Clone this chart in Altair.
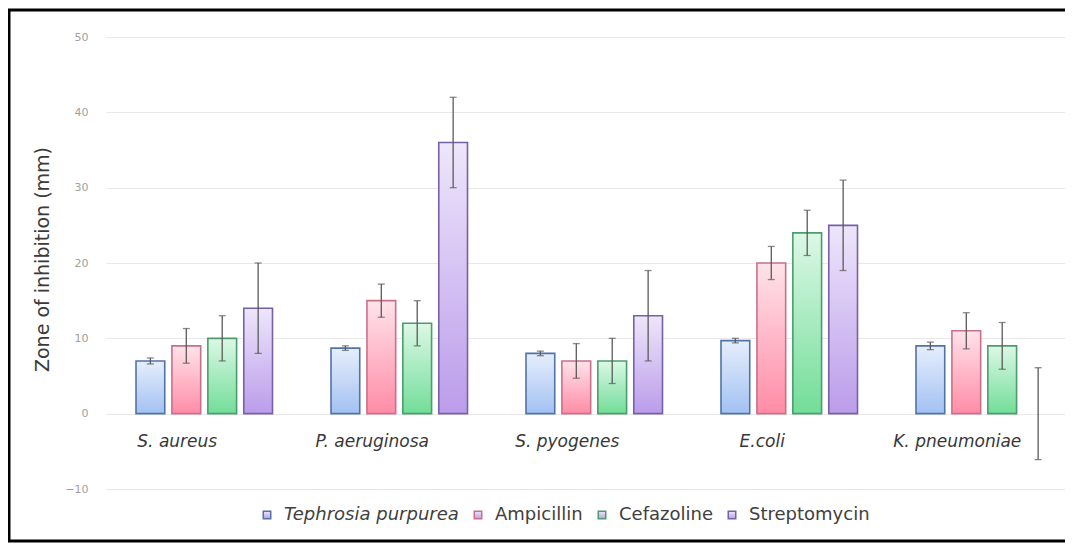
import altair as alt
import pandas as pd

organisms = ["S. aureus", "P. aeruginosa", "S. pyogenes", "E.coli", "K. pneumoniae"]
treatments = ["Tephrosia purpurea", "Ampicillin", "Cefazoline", "Streptomycin"]

tephrosia = [7.0, 8.7, 8.0, 9.7, 9.0]
ampicillin = [9.0, 15.0, 7.0, 20.0, 11.0]
cefazoline = [10.0, 12.0, 7.0, 24.0, 9.0]
streptomycin = [14.0, 36.0, 13.0, 25.0, 0.0]

tephrosia_err = [0.4, 0.3, 0.3, 0.3, 0.5]
ampicillin_err = [2.3, 2.2, 2.3, 2.2, 2.4]
cefazoline_err = [3.0, 3.0, 3.0, 3.0, 3.1]
streptomycin_err = [6.0, 6.0, 6.0, 6.0, 6.1]

y_ticks = [-10, 0, 10, 20, 30, 40, 50]

stroke_colors = ["#5273a6", "#c8708a", "#4c9c6c", "#7462a4"]
fill_top = ["#e6eefc", "#ffe3ea", "#dcf8e6", "#eee6fb"]
fill_bottom = ["#a2c1f2", "#ff8ca7", "#72dd98", "#bb9cea"]

rows = []
for vals, errs, t in [(tephrosia, tephrosia_err, treatments[0]),
                      (ampicillin, ampicillin_err, treatments[1]),
                      (cefazoline, cefazoline_err, treatments[2]),
                      (streptomycin, streptomycin_err, treatments[3])]:
    for o, v, e in zip(organisms, vals, errs):
        rows.append({"organism": o, "treatment": t, "value": v,
                     "lo": v - e, "hi": v + e})
df = pd.DataFrame(rows)
df_org = pd.DataFrame({"organism": organisms})


def grad(top, bottom):
    return {"gradient": "linear", "x1": 0, "y1": 0, "x2": 0, "y2": 1,
            "stops": [{"offset": 0, "color": top}, {"offset": 1, "color": bottom}]}


fill_conditions = [
    {"test": f"datum.treatment === '{t}'", "value": grad(a, b)}
    for t, a, b in zip(treatments[:-1], fill_top[:-1], fill_bottom[:-1])
]
fill_def = {"condition": fill_conditions, "value": grad(fill_top[-1], fill_bottom[-1])}

FONT = "DejaVu Sans"

x_scale = alt.Scale(paddingInner=0.3, paddingOuter=0.109, align=0.706)
y_scale = alt.Scale(domain=[-10, 50], nice=False)


def xenc():
    return alt.X("organism:N", sort=organisms, scale=x_scale, axis=None)


def xoff():
    return alt.XOffset("treatment:N", sort=treatments,
                       scale=alt.Scale(paddingInner=0.2, paddingOuter=0))


bars = alt.Chart(df).mark_bar(strokeWidth=1.6).encode(
    x=xenc(),
    xOffset=xoff(),
    y=alt.Y("value:Q", scale=y_scale,
            axis=alt.Axis(values=y_ticks, title="Zone of inhibition (mm)",
                          domain=False, ticks=False, gridColor="#e8e8e8",
                          labelColor="#a0a0a0", labelFontSize=11, labelFont=FONT,
                          labelPadding=18, titleFont=FONT, titleFontSize=19,
                          titleFontWeight="normal", titleColor="#3a3a3a",
                          titleX=-64, titleY=222, titleAngle=-90,
                          titleAlign="center", titleBaseline="middle")),
    y2=alt.datum(0),
    fill=fill_def,
    strokeOpacity=alt.condition("datum.value === 0", alt.value(0), alt.value(1)),
    stroke=alt.Stroke("treatment:N", sort=treatments,
                      scale=alt.Scale(domain=treatments, range=stroke_colors),
                      legend=alt.Legend(title=None, orient="none", direction="horizontal",
                                        legendX=152, legendY=469, columns=4, padding=0,
                                        symbolType="square", symbolSize=56,
                                        symbolStrokeWidth=1.5, symbolFillColor="#f2f3f8",
                                        labelFontSize=18, labelFont=FONT, labelLimit=400,
                                        labelColor="#404040", labelOffset=8,
                                        columnPadding=10,
                                        labelFontStyle=alt.ExprRef(
                                            "datum.label === 'Tephrosia purpurea' ? 'italic' : 'normal'"))),
)

rules = alt.Chart(df).mark_rule(color="#5a5a5a", strokeWidth=1.3).encode(
    x=xenc(),
    xOffset=xoff(),
    y=alt.Y("lo:Q", scale=y_scale),
    y2="hi:Q",
)
caps_lo = alt.Chart(df).mark_tick(color="#5a5a5a", thickness=1.3, size=7).encode(
    x=xenc(),
    xOffset=xoff(),
    y=alt.Y("lo:Q", scale=y_scale),
)
caps_hi = alt.Chart(df).mark_tick(color="#5a5a5a", thickness=1.3, size=7).encode(
    x=xenc(),
    xOffset=xoff(),
    y=alt.Y("hi:Q", scale=y_scale),
)

labels = alt.Chart(df_org).mark_text(
    font=FONT, fontSize=17, fontStyle="italic", color="#383838",
    dx=-27, dy=28, baseline="middle", align="center"
).encode(
    x=xenc(),
    y=alt.datum(0),
    text="organism:N",
)

frame = alt.Chart(pd.DataFrame({"k": [0]})).mark_rect(
    filled=False, stroke="#000000", strokeWidth=3
).encode(x=alt.value(-97), x2=alt.value(1100), y=alt.value(-27), y2=alt.value(504))

chart = alt.layer(bars, rules, caps_lo, caps_hi, labels, frame).properties(
    width=959, height=452,
    autosize=alt.AutoSizeParams(type="none"),
    padding={"left": 98, "top": 29, "right": 0, "bottom": 54},
).configure(font=FONT).configure_view(stroke=None).configure_axis(domain=False, ticks=False)

chart.save("out.html", embed_options={"renderer": "svg", "actions": False})
